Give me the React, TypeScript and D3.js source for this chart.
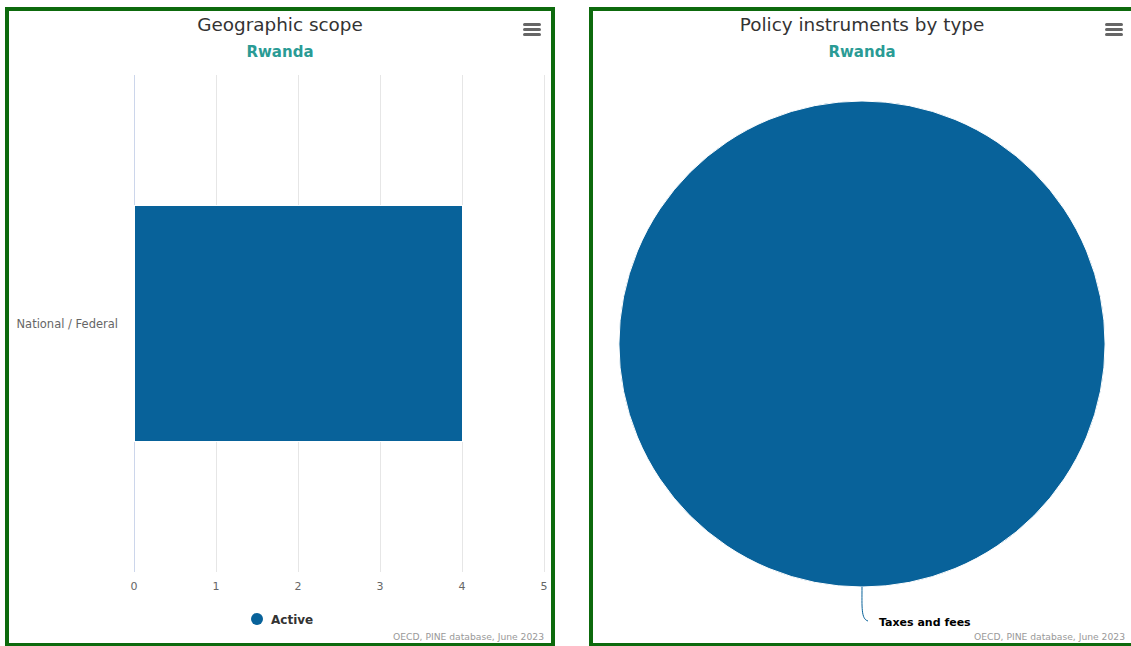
import React from "react";
import * as d3 from "d3";

const categories = ["National / Federal"];
const activeCounts = [4];
const xTicks = [0, 1, 2, 3, 4, 5];
const instrumentTypes = ["Taxes and fees"];
const instrumentCounts = [4];

const BLUE = "#08629a";
const TEAL = "#2a9b95";
const FRAME = "#0d6a0d";
const FONT = "'DejaVu Sans', Verdana, sans-serif";

function MenuIcon({ x, y }: { x: number; y: number }) {
  return (
    <g transform={`translate(${x},${y})`}>
      {[0, 5, 10].map((dy) => (
        <rect key={dy} x={0} y={dy} width={18} height={3} rx={1.5} fill="#666" />
      ))}
    </g>
  );
}

function BarPanel() {
  const x = d3.scaleLinear().domain([0, 5]).range([134, 544]);
  const y = d3.scaleBand<string>().domain(categories).range([75, 572]).paddingInner(0).paddingOuter(0.553);
  return (
    <g>
      <rect x={7} y={9} width={546} height={636} fill="#fff" stroke={FRAME} strokeWidth={4} />
      <text x={280} y={31} textAnchor="middle" fontFamily={FONT} fontSize={18.4} fill="#333">
        Geographic scope
      </text>
      <text x={280} y={57} textAnchor="middle" fontFamily={FONT} fontSize={15} fontWeight="bold" fill={TEAL}>
        Rwanda
      </text>
      <MenuIcon x={523} y={23} />
      {xTicks.map((t) => (
        <g key={t}>
          <line
            x1={x(t) + 0.5}
            x2={x(t) + 0.5}
            y1={75}
            y2={572}
            stroke={t === 0 ? "#ccd6eb" : "#e6e6e6"}
            strokeWidth={1}
          />
          <text x={x(t)} y={590} textAnchor="middle" fontFamily={FONT} fontSize={11} fill="#666">
            {t}
          </text>
        </g>
      ))}
      {categories.map((c, i) => (
        <g key={c}>
          <rect
            x={x(0) + 0.5}
            y={y(c)!}
            width={x(activeCounts[i]) - x(0)}
            height={y.bandwidth()}
            fill={BLUE}
            stroke="#fff"
            strokeWidth={1}
          />
          <text
            x={118}
            y={y(c)! + y.bandwidth() / 2 + 4}
            textAnchor="end"
            fontFamily={FONT}
            fontSize={11.5}
            fill="#666"
          >
            {c}
          </text>
        </g>
      ))}
      <circle cx={257} cy={619} r={6} fill={BLUE} />
      <text x={271} y={624} fontFamily={FONT} fontSize={12} fontWeight="bold" fill="#333">
        Active
      </text>
      <text x={544} y={640} textAnchor="end" fontFamily={FONT} fontSize={9.2} fill="#999">
        OECD, PINE database, June 2023
      </text>
    </g>
  );
}

function PiePanel() {
  const cx = 862;
  const cy = 344;
  const r = 243;
  const pie = d3.pie<number>().sort(null).startAngle(Math.PI).endAngle(Math.PI + 2 * Math.PI);
  const arcs = pie(instrumentCounts);
  const arc = d3.arc<d3.PieArcDatum<number>>().innerRadius(0).outerRadius(r);
  return (
    <g>
      <rect x={591} y={9} width={560} height={636} fill="#fff" stroke={FRAME} strokeWidth={4} />
      <text x={cx} y={31} textAnchor="middle" fontFamily={FONT} fontSize={18.4} fill="#333">
        Policy instruments by type
      </text>
      <text x={cx} y={57} textAnchor="middle" fontFamily={FONT} fontSize={15} fontWeight="bold" fill={TEAL}>
        Rwanda
      </text>
      <MenuIcon x={1105} y={23} />
      <g transform={`translate(${cx},${cy})`}>
        {arcs.map((a, i) => (
          <path key={i} d={arc(a) || ""} fill={BLUE} stroke="#fff" strokeWidth={1} />
        ))}
      </g>
      {instrumentTypes.map((t) => (
        <g key={t}>
          <path
            d={`M${cx},${cy + r} C${cx},${cy + r + 20} ${cx - 1},${cy + r + 32} ${cx + 6},${cy + r + 34}`}
            fill="none"
            stroke={BLUE}
            strokeWidth={1}
          />
          <text x={cx + 17} y={cy + r + 39} fontFamily={FONT} fontSize={11} fontWeight="bold" fill="#000">
            {t}
          </text>
        </g>
      ))}
      <text x={1125} y={640} textAnchor="end" fontFamily={FONT} fontSize={9.2} fill="#999">
        OECD, PINE database, June 2023
      </text>
    </g>
  );
}

export default function App() {
  return (
    <div style={{ position: "fixed", left: 0, top: 0 }}>
      <svg width={1131} height={646} style={{ display: "block" }}>
        <rect x={0} y={0} width={1131} height={646} fill="#fff" />
        <BarPanel />
        <PiePanel />
      </svg>
    </div>
  );
}
